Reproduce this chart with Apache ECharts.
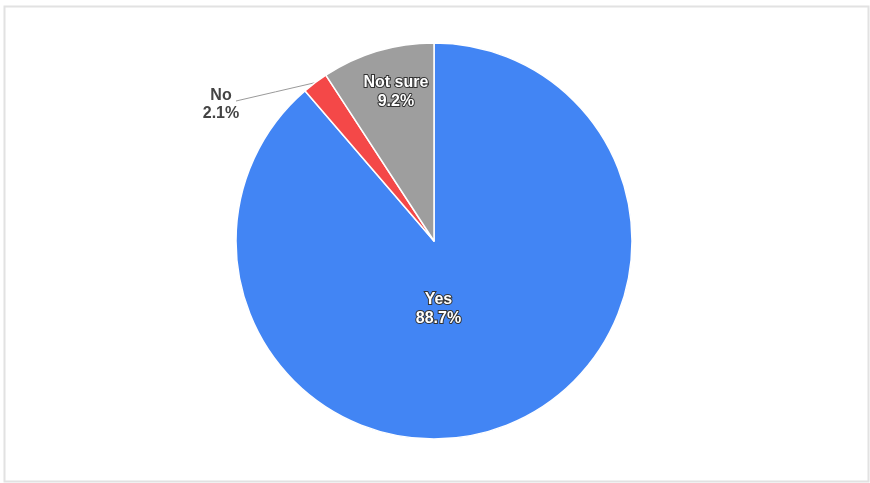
<!DOCTYPE html>
<html><head><meta charset="utf-8">
<script src="https://cdn.jsdelivr.net/npm/echarts@6/dist/echarts.min.js"></script>
<style>html,body{margin:0;padding:0;background:#fff}#c{width:870px;height:483px}</style>
</head><body><div id="c"></div>
<script>
const categories = ['Yes', 'No', 'Not sure'];
const values = [88.7, 2.1, 9.2];
const colors = ['#4285F4', '#F44848', '#9E9E9E'];

const chart = echarts.init(document.getElementById('c'));
const insideLabel = {
  position: 'inside',
  color: '#fff',
  fontFamily: 'Liberation Sans, Arial, sans-serif',
  fontWeight: 'bold',
  fontSize: 16,
  lineHeight: 19,
  textBorderColor: '#333',
  textBorderWidth: 2
};
const labelOffsets = { 'Yes': [-31, -28], 'Not sure': [-9, -51] };
chart.setOption({
  animation: false,
  backgroundColor: '#fff',
  graphic: [{
    type: 'rect', left: 2, top: 4,
    shape: { width: 864, height: 475 },
    style: { fill: 'none', stroke: '#e2e2e2', lineWidth: 2 }
  }],
  series: [{
    type: 'pie',
    center: [434, 241],
    radius: 198,
    startAngle: 90,
    clockwise: true,
    itemStyle: { borderColor: '#fff', borderWidth: 1.5 },
    label: {
      formatter: p => p.name + '\n' + p.value.toFixed(1) + '%'
    },
    labelLayout: function (p) {
      if (p.dataIndex === 1 && p.labelLinePoints) {
        const s = p.labelLinePoints[0];
        const e = [236, 101];
        return {
          x: 221, y: 105, align: 'center', verticalAlign: 'middle',
          labelLinePoints: [s, [(s[0] + e[0]) / 2, (s[1] + e[1]) / 2], e]
        };
      }
    },
    data: categories.map((name, i) => {
      const item = { name: name, value: values[i], itemStyle: { color: colors[i] } };
      if (name === 'No') {
        item.label = {
          position: 'outside',
          color: '#444',
          fontFamily: 'Liberation Sans, Arial, sans-serif',
          fontWeight: 'bold',
          fontSize: 16,
          lineHeight: 18,
          align: 'center'
        };
        item.labelLine = { show: true, length: 10, length2: 10, lineStyle: { color: '#9a9a9a', width: 1 } };
      } else {
        item.label = Object.assign({}, insideLabel, { offset: labelOffsets[name] });
        item.labelLine = { show: false };
      }
      return item;
    })
  }]
});
</script></body></html>
